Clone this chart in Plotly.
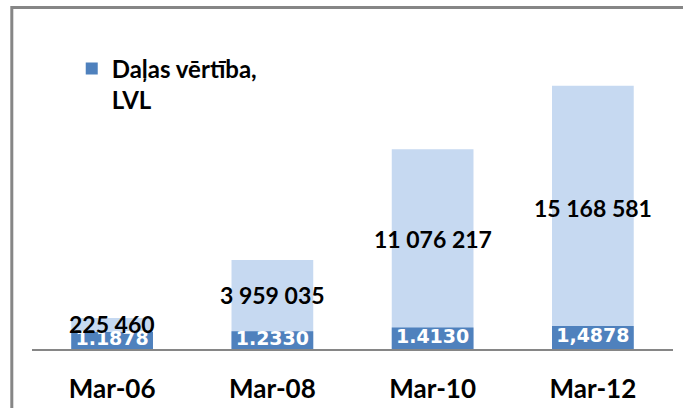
import plotly.graph_objects as go

# ---- data ----
categories = ["Mar-06", "Mar-08", "Mar-10", "Mar-12"]
net_assets = [225460, 3959035, 11076217, 15168581]
net_asset_labels = ["225 460", "3 959 035", "11 076 217", "15 168 581"]
unit_values = [1.1878, 1.2330, 1.4130, 1.4878]
unit_value_labels = ["1.1878", "1.2330", "1.4130", "1,4878"]
legend_name = "Daļas vērtība,<br>LVL"

# ---- axis ranges (value axes start below zero as in the original) ----
Y_MIN, Y_MAX = -1.77e6, 19.4e6
Y2_MIN, Y2_MAX = 0.34, 16.79

LIGHT = "#C6D9F1"
DARK = "#4F81BD"
GRAY = "#868686"
FONT = "Lato"

fig = go.Figure()

fig.add_trace(go.Bar(
    x=categories, y=[v - Y_MIN for v in net_assets], base=Y_MIN,
    marker=dict(color=LIGHT, line=dict(width=0)),
    showlegend=False, yaxis="y", hoverinfo="skip",
))
fig.add_trace(go.Bar(
    x=categories, y=[v - Y2_MIN for v in unit_values], base=Y2_MIN,
    name=legend_name,
    marker=dict(color=DARK, line=dict(width=0)),
    yaxis="y2", hoverinfo="skip",
))
fig.add_trace(go.Scatter(
    x=categories, y=[(Y2_MIN + v) / 2 for v in unit_values], text=unit_value_labels,
    mode="text", textposition="middle center",
    textfont=dict(family="DejaVu Sans", size=19, color="white", weight="bold"),
    showlegend=False, yaxis="y2", hoverinfo="skip",
))

annotations = [
    dict(x=c, y=v / 2, xref="x", yref="y", text=t, showarrow=False,
         yshift=-4, font=dict(family=FONT, size=23, color="black", weight="bold"))
    for c, v, t in zip(categories, net_assets, net_asset_labels)
]

fig.update_layout(
    width=683, height=408, autosize=False,
    margin=dict(l=32, r=10, t=20, b=59, autoexpand=False),
    paper_bgcolor="white", plot_bgcolor="white",
    barmode="overlay", bargap=0.49,
    font=dict(family=FONT, color="black"),
    xaxis=dict(
        showline=True, linecolor=GRAY, linewidth=2, showgrid=False,
        ticks="", ticklabelstandoff=16, automargin=False,
        tickfont=dict(family=FONT, size=26, color="black", weight="bold"),
        fixedrange=True,
    ),
    yaxis=dict(range=[Y_MIN, Y_MAX], visible=False, showgrid=False, fixedrange=True),
    yaxis2=dict(range=[Y2_MIN, Y2_MAX], overlaying="y", side="right",
                visible=False, showgrid=False, fixedrange=True),
    legend=dict(
        x=0.062, y=0.92, xanchor="left", yanchor="top", valign="top",
        bgcolor="rgba(0,0,0,0)",
        font=dict(family=FONT, size=24, color="black", weight="bold"),
    ),
    annotations=annotations,
    shapes=[dict(
        type="rect", xref="paper", yref="paper",
        x0=-0.0315, x1=1.042, y0=-0.216, y1=1.038,
        line=dict(color=GRAY, width=3), fillcolor="rgba(0,0,0,0)", layer="above",
    )],
)

fig.write_html(
    "out.html",
    config={"responsive": False, "displayModeBar": False, "staticPlot": True},
    post_script="document.body.style.margin='0';document.body.style.overflow='hidden';",
)
